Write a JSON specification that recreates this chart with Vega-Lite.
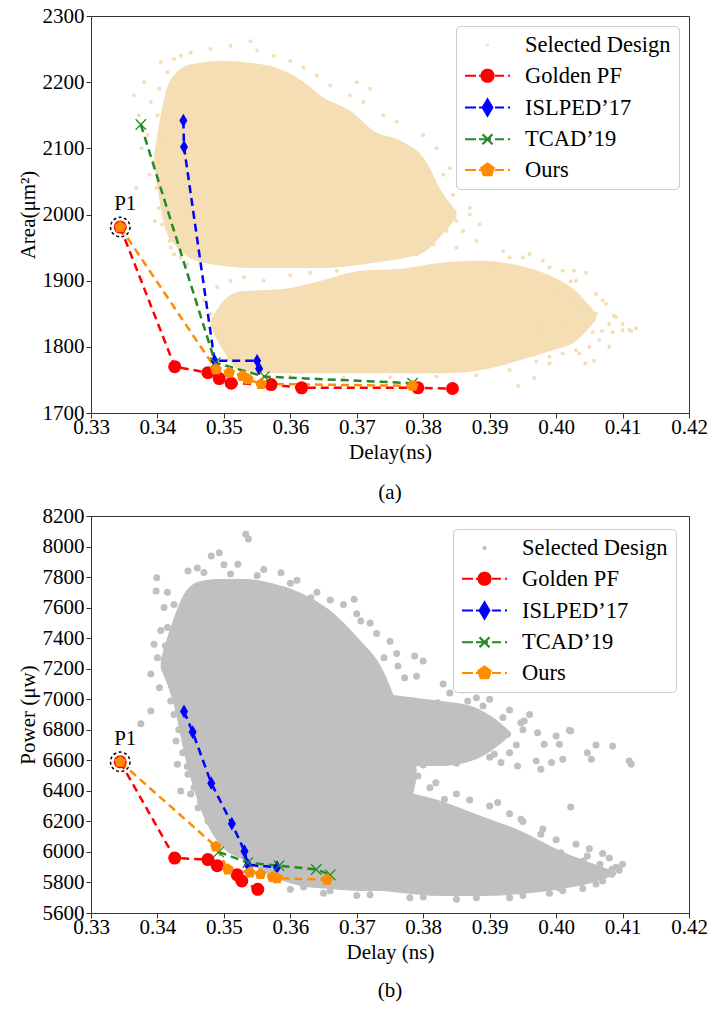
{
"$schema": "https://vega.github.io/schema/vega-lite/v6.json",
"padding": {"left": 16, "top": 4, "right": 5, "bottom": 5},
"spacing": 0,
"resolve": {"scale": {"color": "independent", "stroke": "independent", "shape": "independent"}, "legend": {"color": "independent", "stroke": "independent", "shape": "independent"}},
"config": {
  "view": {"stroke": "#333333", "strokeWidth": 1},
  "font": "Liberation Serif, Times New Roman, DejaVu Serif, serif",
  "axis": {"labelFont": "Liberation Serif, Times New Roman, DejaVu Serif, serif", "titleFont": "Liberation Serif, Times New Roman, DejaVu Serif, serif", "labelFontSize": 21, "titleFontSize": 21, "titleFontWeight": "normal", "labelColor": "#000000", "titleColor": "#000000", "tickColor": "#333333", "domainColor": "#333333", "grid": false, "tickSize": 5, "labelFlush": false, "labelOverlap": false, "titlePadding": 4},
  "axisX": {"labelPadding": -2},
  "axisY": {"labelPadding": 2, "format": "d"},
  "legend": {"orient": "top-right", "offset": 10, "padding": 7.5, "rowPadding": 7.75, "symbolSize": 400, "symbolStrokeWidth": 2.2, "symbolOpacity": 1, "labelOffset": 38.5, "labelFontSize": 22.5, "labelFont": "Liberation Serif, Times New Roman, DejaVu Serif, serif", "labelColor": "#000000", "strokeColor": "#cccccc", "fillColor": "#ffffff", "cornerRadius": 4, "symbolDash": [1, 0]},
  "title": {"font": "Liberation Serif, Times New Roman, DejaVu Serif, serif", "fontSize": 21, "fontWeight": "normal", "color": "#000000"}
},
"datasets": {
  "coreA": [
    {"b":"u","x":0.3395,"y":2075,"y2":2090},{"b":"u","x":0.3413,"y":1975,"y2":2187},{"b":"u","x":0.3428,"y":1952,"y2":2214},{"b":"u","x":0.3451,"y":1933,"y2":2227},{"b":"u","x":0.3500,"y":1922,"y2":2232},{"b":"u","x":0.3541,"y":1919,"y2":2229},{"b":"u","x":0.3581,"y":1919,"y2":2221},{"b":"u","x":0.3612,"y":1919,"y2":2206},{"b":"u","x":0.3651,"y":1919,"y2":2176},{"b":"u","x":0.3691,"y":1922,"y2":2156},{"b":"u","x":0.3726,"y":1927,"y2":2126},{"b":"u","x":0.3767,"y":1933,"y2":2111},{"b":"u","x":0.3804,"y":1945,"y2":2081},{"b":"u","x":0.3827,"y":1968,"y2":2036},{"b":"u","x":0.3850,"y":1995,"y2":2005},
    {"b":"l","x":0.3480,"y":1830,"y2":1840},{"b":"l","x":0.3499,"y":1794,"y2":1869},{"b":"l","x":0.3526,"y":1763,"y2":1884},{"b":"l","x":0.3586,"y":1760,"y2":1887},{"b":"l","x":0.3646,"y":1760,"y2":1900},{"b":"l","x":0.3706,"y":1760,"y2":1915},{"b":"l","x":0.3767,"y":1760,"y2":1918},{"b":"l","x":0.3827,"y":1760,"y2":1927},{"b":"l","x":0.3887,"y":1765,"y2":1930},{"b":"l","x":0.3947,"y":1780,"y2":1922},{"b":"l","x":0.3992,"y":1794,"y2":1907},{"b":"l","x":0.4030,"y":1809,"y2":1884},{"b":"l","x":0.4060,"y":1840,"y2":1850}
  ],
  "cloudA": [
    {"x":0.3365,"y":2180},{"x":0.3372,"y":2150},{"x":0.3380,"y":2200},{"x":0.3385,"y":2120},{"x":0.3390,"y":2170},{"x":0.3395,"y":2080},{"x":0.3398,"y":2040},{"x":0.3402,"y":2010},{"x":0.3396,"y":1990},{"x":0.3405,"y":2230},{"x":0.3410,"y":2110},{"x":0.3388,"y":2060},{"x":0.3376,"y":2100},{"x":0.3368,"y":2040},{"x":0.3418,"y":1960},{"x":0.3425,"y":1940},
    {"x":0.3450,"y":2245},{"x":0.3480,"y":2250},{"x":0.3510,"y":2255},{"x":0.3540,"y":2262},{"x":0.3550,"y":2248},{"x":0.3575,"y":2240},{"x":0.3600,"y":2232},{"x":0.3620,"y":2222},{"x":0.3640,"y":2210},{"x":0.3660,"y":2195},{"x":0.3690,"y":2180},{"x":0.3710,"y":2170},{"x":0.3740,"y":2150},{"x":0.3760,"y":2140},{"x":0.3800,"y":2120},{"x":0.3820,"y":2100},{"x":0.3840,"y":2070},{"x":0.3860,"y":2040},{"x":0.3870,"y":2010},{"x":0.3850,"y":1990},{"x":0.3880,"y":1960},{"x":0.3720,"y":2190},{"x":0.3700,"y":2200},
    {"x":0.4000,"y":1890},{"x":0.4020,"y":1870},{"x":0.4040,"y":1860},{"x":0.4060,"y":1850},{"x":0.4080,"y":1835},{"x":0.4100,"y":1825},{"x":0.4110,"y":1826},{"x":0.4050,"y":1800},{"x":0.4030,"y":1795},{"x":0.4010,"y":1790},{"x":0.3990,"y":1785},{"x":0.3970,"y":1778},{"x":0.4070,"y":1870},{"x":0.4090,"y":1845},{"x":0.4010,"y":1915},{"x":0.3980,"y":1930},{"x":0.3960,"y":1940},{"x":0.3920,"y":1945},{"x":0.4045,"y":1912},{"x":0.4055,"y":1822},{"x":0.4080,"y":1800},{"x":0.4020,"y":1830},
    {"x":0.3510,"y":1900},{"x":0.3490,"y":1890},{"x":0.3480,"y":1850},{"x":0.3490,"y":1820},{"x":0.3500,"y":1800},{"x":0.3470,"y":1870},{"x":0.3505,"y":1780},
    {"x":0.3850,"y":1950},{"x":0.3900,"y":1925},{"x":0.3930,"y":1935},{"x":0.3860,"y":1975},
    {"x":0.4027,"y":1915},{"x":0.4022,"y":1899},{"x":0.4087,"y":1847},{"x":0.4113,"y":1824},{"x":0.4069,"y":1824},{"x":0.4057,"y":1779},{"x":0.4044,"y":1775},{"x":0.3967,"y":1753},{"x":0.3943,"y":1741},{"x":0.3977,"y":1828},
    {"x":0.3400,"y":2150},{"x":0.3403,"y":2190},{"x":0.3408,"y":2060},{"x":0.3412,"y":2025},{"x":0.3407,"y":1985},{"x":0.3420,"y":1950},{"x":0.3435,"y":1935},{"x":0.3445,"y":1925},{"x":0.3415,"y":2215},{"x":0.3425,"y":2235},{"x":0.3435,"y":2240},
    {"x":0.3530,"y":1905},{"x":0.3560,"y":1900},{"x":0.3600,"y":1908},{"x":0.3630,"y":1912},{"x":0.3670,"y":1915},
    {"x":0.3830,"y":2060},{"x":0.3845,"y":2030},{"x":0.3835,"y":1975},{"x":0.3815,"y":1955},{"x":0.3790,"y":1940},{"x":0.3870,"y":2000},{"x":0.3885,"y":1985},
    {"x":0.3540,"y":1758},{"x":0.3600,"y":1755},{"x":0.3680,"y":1753},{"x":0.3750,"y":1754},{"x":0.3820,"y":1755},{"x":0.3880,"y":1757},{"x":0.3930,"y":1765},{"x":0.3990,"y":1775},{"x":0.4035,"y":1790},{"x":0.4065,"y":1810},{"x":0.4085,"y":1822},{"x":0.4100,"y":1835},{"x":0.4120,"y":1828},
    {"x":0.3950,"y":1935},{"x":0.3990,"y":1920},{"x":0.4030,"y":1900},{"x":0.4060,"y":1880},{"x":0.4075,"y":1865}
  ],
  "pfA": [
    {"s":"Golden PF","x":0.3344,"y":1981},{"s":"Golden PF","x":0.3426,"y":1770},{"s":"Golden PF","x":0.3476,"y":1761},{"s":"Golden PF","x":0.3493,"y":1752},{"s":"Golden PF","x":0.3511,"y":1745},{"s":"Golden PF","x":0.3571,"y":1743},{"s":"Golden PF","x":0.3617,"y":1738},{"s":"Golden PF","x":0.3792,"y":1738},{"s":"Golden PF","x":0.3844,"y":1737},
    {"s":"ISLPED’17","x":0.3439,"y":2142},{"s":"ISLPED’17","x":0.3440,"y":2102},{"s":"ISLPED’17","x":0.3486,"y":1779},{"s":"ISLPED’17","x":0.3550,"y":1779},{"s":"ISLPED’17","x":0.3553,"y":1767},
    {"s":"TCAD’19","x":0.3375,"y":2136},{"s":"TCAD’19","x":0.3487,"y":1776},{"s":"TCAD’19","x":0.3561,"y":1755},{"s":"TCAD’19","x":0.3784,"y":1745},
    {"s":"Ours","x":0.3344,"y":1981},{"s":"Ours","x":0.3488,"y":1766},{"s":"Ours","x":0.3508,"y":1761},{"s":"Ours","x":0.3528,"y":1756},{"s":"Ours","x":0.3536,"y":1751},{"s":"Ours","x":0.3556,"y":1744},{"s":"Ours","x":0.3784,"y":1741}
  ],
  "p1A": [{"x":0.3344,"y":1981,"label":"P1"}],
  "coreB": [
    {"b":"m","x":0.3405,"y":7200,"y2":7260},{"b":"m","x":0.3423,"y":6988,"y2":7512},{"b":"m","x":0.3443,"y":6595,"y2":7709},{"b":"m","x":0.3466,"y":6268,"y2":7774},{"b":"m","x":0.3496,"y":6039,"y2":7787},{"b":"m","x":0.3533,"y":5941,"y2":7787},{"b":"m","x":0.3571,"y":5842,"y2":7761},{"b":"m","x":0.3616,"y":5777,"y2":7696},{"b":"m","x":0.3661,"y":5757,"y2":7578},{"b":"m","x":0.3706,"y":5744,"y2":7381},{"b":"m","x":0.3736,"y":5744,"y2":7218},{"b":"m","x":0.3790,"y":6480,"y2":6560},
    {"b":"l","x":0.3700,"y":5744,"y2":6500},{"b":"l","x":0.3736,"y":5744,"y2":6432},{"b":"l","x":0.3767,"y":5731,"y2":6399},{"b":"l","x":0.3827,"y":5711,"y2":6334},{"b":"l","x":0.3887,"y":5711,"y2":6235},{"b":"l","x":0.3947,"y":5724,"y2":6137},{"b":"l","x":0.4007,"y":5757,"y2":6006},{"b":"l","x":0.4053,"y":5797,"y2":5928},{"b":"l","x":0.4090,"y":5850,"y2":5870},
    {"b":"r","x":0.3700,"y":6620,"y2":7100},{"b":"r","x":0.3721,"y":6595,"y2":7054},{"b":"r","x":0.3767,"y":6563,"y2":7021},{"b":"r","x":0.3827,"y":6563,"y2":6988},{"b":"r","x":0.3872,"y":6595,"y2":6956},{"b":"r","x":0.3902,"y":6661,"y2":6890},{"b":"r","x":0.3930,"y":6760,"y2":6790}
  ],
  "cloudB": [
    {"x":0.3399,"y":7796},{"x":0.3398,"y":7709},{"x":0.3415,"y":7469},{"x":0.3395,"y":7360},{"x":0.3400,"y":7272},{"x":0.3390,"y":7165},{"x":0.3390,"y":6923},{"x":0.3375,"y":6840},{"x":0.3403,"y":7076},{"x":0.3428,"y":6727},{"x":0.3430,"y":6574},{"x":0.3435,"y":6399},{"x":0.3450,"y":6379},{"x":0.3461,"y":6290},{"x":0.3476,"y":6203},{"x":0.3446,"y":6508},{"x":0.3420,"y":6988},
    {"x":0.3533,"y":8080},{"x":0.3537,"y":8050},{"x":0.3493,"y":7960},{"x":0.3481,"y":7938},{"x":0.3446,"y":7840},{"x":0.3586,"y":7829},{"x":0.3521,"y":7884},{"x":0.3631,"y":7665},{"x":0.3696,"y":7654},{"x":0.3706,"y":7512},{"x":0.3676,"y":7469},{"x":0.3741,"y":7272},{"x":0.3787,"y":7283},{"x":0.3762,"y":7218},{"x":0.3772,"y":7141},{"x":0.3726,"y":7229},
    {"x":0.3470,"y":7830},{"x":0.3510,"y":7820},{"x":0.3550,"y":7810},{"x":0.3600,"y":7760},{"x":0.3640,"y":7700},{"x":0.3680,"y":7620},{"x":0.3720,"y":7500},{"x":0.3750,"y":7380},{"x":0.3800,"y":7250},{"x":0.3830,"y":7100},{"x":0.3860,"y":7060},{"x":0.3900,"y":7000},{"x":0.3930,"y":6930},{"x":0.3960,"y":6900},{"x":0.4000,"y":6760},{"x":0.4060,"y":6700},
    {"x":0.4022,"y":6792},{"x":0.4047,"y":6650},{"x":0.4053,"y":6607},{"x":0.4085,"y":6694},{"x":0.4110,"y":6596},{"x":0.4113,"y":6574},{"x":0.3982,"y":6705},{"x":0.4005,"y":6705},{"x":0.4010,"y":6607},{"x":0.3993,"y":6585},{"x":0.3977,"y":6541},{"x":0.3970,"y":6596},{"x":0.3952,"y":6857},{"x":0.3972,"y":6781},{"x":0.4020,"y":6797},{"x":0.4022,"y":6294},{"x":0.3930,"y":6650},{"x":0.3942,"y":6563},{"x":0.3917,"y":6585},{"x":0.3907,"y":6639},{"x":0.3819,"y":6453},{"x":0.3792,"y":6497},{"x":0.3832,"y":6345},{"x":0.3912,"y":6323},{"x":0.3947,"y":6214},{"x":0.3977,"y":6115},{"x":0.4007,"y":5995},{"x":0.4047,"y":5973},{"x":0.3767,"y":6453},{"x":0.3762,"y":6988},{"x":0.3779,"y":6984},{"x":0.3822,"y":6977},{"x":0.3867,"y":6988},{"x":0.3890,"y":6956},{"x":0.3907,"y":6846},{"x":0.3927,"y":6770},{"x":0.3947,"y":6846},
    {"x":0.4004,"y":5766},{"x":0.4032,"y":5799},{"x":0.4053,"y":5875},{"x":0.4084,"y":5886},{"x":0.4084,"y":5853},{"x":0.4016,"y":5897},{"x":0.3961,"y":5821},{"x":0.4066,"y":5919},{"x":0.4041,"y":5941},{"x":0.4003,"y":5915},
    {"x":0.3850,"y":6380},{"x":0.3900,"y":6300},{"x":0.3950,"y":6200},{"x":0.4000,"y":6080},{"x":0.4050,"y":6020},{"x":0.4080,"y":5960},{"x":0.4090,"y":5900},{"x":0.4070,"y":5810},{"x":0.4040,"y":5760},{"x":0.3990,"y":5730},{"x":0.3930,"y":5700},{"x":0.3850,"y":5690},{"x":0.3780,"y":5700},{"x":0.3700,"y":5715},{"x":0.3650,"y":5730},{"x":0.3600,"y":5755},
    {"x":0.3410,"y":7600},{"x":0.3415,"y":7700},{"x":0.3425,"y":7620},{"x":0.3405,"y":7450},{"x":0.3412,"y":7350},{"x":0.3418,"y":7150},{"x":0.3425,"y":6900},{"x":0.3432,"y":6800},{"x":0.3438,"y":6650},{"x":0.3445,"y":6560},{"x":0.3455,"y":6420},{"x":0.3465,"y":6330},{"x":0.3480,"y":6250},{"x":0.3490,"y":6120},{"x":0.3500,"y":6060},
    {"x":0.3460,"y":7860},{"x":0.3500,"y":7880},{"x":0.3560,"y":7850},{"x":0.3610,"y":7780},{"x":0.3660,"y":7650},{"x":0.3700,"y":7560},{"x":0.3730,"y":7430},{"x":0.3760,"y":7300},{"x":0.3790,"y":7150},{"x":0.3840,"y":7040},{"x":0.3880,"y":7010},{"x":0.3920,"y":6880},{"x":0.3950,"y":6800},{"x":0.3940,"y":6700},{"x":0.3900,"y":6620},{"x":0.3850,"y":6580},{"x":0.3800,"y":6570},{"x":0.3780,"y":6470},{"x":0.3810,"y":6420},{"x":0.3870,"y":6340},{"x":0.3930,"y":6250},{"x":0.3980,"y":6150},{"x":0.4030,"y":6050},{"x":0.4070,"y":5990},{"x":0.4100,"y":5920},{"x":0.4095,"y":5880},{"x":0.4060,"y":5790},{"x":0.4010,"y":5745},{"x":0.3950,"y":5715},{"x":0.3880,"y":5700},{"x":0.3800,"y":5705},{"x":0.3720,"y":5720},{"x":0.3660,"y":5745},{"x":0.3620,"y":5770}
  ],
  "pfB": [
    {"s":"Golden PF","x":0.3344,"y":6590},{"s":"Golden PF","x":0.3426,"y":5960},{"s":"Golden PF","x":0.3476,"y":5950},{"s":"Golden PF","x":0.3490,"y":5910},{"s":"Golden PF","x":0.3520,"y":5850},{"s":"Golden PF","x":0.3527,"y":5810},{"s":"Golden PF","x":0.3551,"y":5755},
    {"s":"ISLPED’17","x":0.3440,"y":6920},{"s":"ISLPED’17","x":0.3453,"y":6785},{"s":"ISLPED’17","x":0.3481,"y":6450},{"s":"ISLPED’17","x":0.3512,"y":6185},{"s":"ISLPED’17","x":0.3531,"y":6005},{"s":"ISLPED’17","x":0.3536,"y":5915},{"s":"ISLPED’17","x":0.3580,"y":5900},
    {"s":"TCAD’19","x":0.3492,"y":6000},{"s":"TCAD’19","x":0.3536,"y":5930},{"s":"TCAD’19","x":0.3583,"y":5910},{"s":"TCAD’19","x":0.3639,"y":5885},{"s":"TCAD’19","x":0.3660,"y":5850},
    {"s":"Ours","x":0.3344,"y":6590},{"s":"Ours","x":0.3488,"y":6035},{"s":"Ours","x":0.3506,"y":5885},{"s":"Ours","x":0.3539,"y":5865},{"s":"Ours","x":0.3555,"y":5855},{"s":"Ours","x":0.3573,"y":5835},{"s":"Ours","x":0.3580,"y":5828},{"s":"Ours","x":0.3655,"y":5818}
  ],
  "p1B": [{"x":0.3344,"y":6590,"label":"P1"}]
},
"vconcat": [
{
  "width": 598, "height": 397,
  "title": {"text": "(a)", "orient": "bottom", "anchor": "middle", "offset": 20},
  "encoding": {
    "x": {"field": "x", "type": "quantitative", "scale": {"domain": [0.33, 0.42], "nice": false, "zero": false}, "axis": {"title": "Delay(ns)", "values": [0.33,0.34,0.35,0.36,0.37,0.38,0.39,0.40,0.41,0.42], "format": ".2f"}},
    "y": {"field": "y", "type": "quantitative", "scale": {"domain": [1700, 2300], "nice": false, "zero": false}, "axis": {"title": "Area(μm²)", "values": [1700,1800,1900,2000,2100,2200,2300]}}
  },
  "layer": [
    {"data": {"name": "coreA"}, "mark": {"type": "area", "color": "#F5DEB3", "interpolate": "monotone", "opacity": 1}, "encoding": {"y2": {"field": "y2"}, "detail": {"field": "b"}}},
    {"data": {"name": "cloudA"}, "mark": {"type": "circle", "color": "#F5DEB3", "size": 16, "opacity": 1}},
    {"data": {"name": "pfA"}, "transform": [{"filter": {"field": "s", "equal": "Golden PF"}}], "mark": {"type": "line", "strokeDash": [8, 5], "strokeWidth": 2.5, "color": "#FF0000"}},
    {"data": {"name": "pfA"}, "transform": [{"filter": {"field": "s", "equal": "ISLPED’17"}}], "mark": {"type": "line", "strokeDash": [8, 5], "strokeWidth": 2.5, "color": "#0000FF"}},
    {"data": {"name": "pfA"}, "transform": [{"filter": {"field": "s", "equal": "TCAD’19"}}], "mark": {"type": "line", "strokeDash": [8, 5], "strokeWidth": 2.5, "color": "#228B22"}},
    {"data": {"name": "pfA"}, "transform": [{"filter": {"field": "s", "equal": "Ours"}}], "mark": {"type": "line", "strokeDash": [8, 5], "strokeWidth": 2.5, "color": "#FF8C00"}},
    {"data": {"name": "pfA"}, "transform": [{"filter": {"field": "s", "equal": "Golden PF"}}], "mark": {"type": "point", "shape": "circle", "filled": true, "size": 169, "color": "#FF0000", "opacity": 1}},
    {"data": {"name": "pfA"}, "transform": [{"filter": {"field": "s", "equal": "ISLPED’17"}}], "mark": {"type": "point", "shape": "M0,-1.05L0.62,0L0,1.05L-0.62,0Z", "filled": true, "size": 169, "color": "#0000FF", "opacity": 1}},
    {"data": {"name": "pfA"}, "transform": [{"filter": {"field": "s", "equal": "TCAD’19"}}], "mark": {"type": "point", "shape": "M-0.8,-0.8L0.8,0.8M-0.8,0.8L0.8,-0.8", "filled": false, "size": 169, "color": "#228B22", "strokeWidth": 1.3, "opacity": 1}},
    {"data": {"name": "pfA"}, "transform": [{"filter": {"field": "s", "equal": "Ours"}}], "mark": {"type": "point", "shape": "M0,-0.95L0.904,-0.294L0.558,0.769L-0.558,0.769L-0.904,-0.294Z", "filled": true, "size": 169, "color": "#FF8C00", "opacity": 1}},
    {"data": {"name": "pfA"}, "mark": {"type": "point", "filled": true, "opacity": 0, "size": 400},
     "encoding": {
       "color": {"field": "s", "type": "nominal", "scale": {"domain": ["Selected Design","Golden PF","ISLPED’17","TCAD’19","Ours"], "range": ["#F5DEB3","#FF0000","#0000FF","#228B22","#FF8C00"]}, "legend": {"title": null}},
       "stroke": {"field": "s", "type": "nominal", "scale": {"domain": ["Selected Design","Golden PF","ISLPED’17","TCAD’19","Ours"], "range": ["#F5DEB3","#FF0000","#0000FF","#228B22","#FF8C00"]}, "legend": {"title": null}},
       "shape": {"field": "s", "type": "nominal", "scale": {"domain": ["Selected Design","Golden PF","ISLPED’17","TCAD’19","Ours"], "range": ["M1.2,0A0.05,0.05 0 1,0 1.3,0A0.05,0.05 0 1,0 1.2,0Z", "M-1,0H0.1M0.4,0H1.6M2,0H2.9M3.3,0H3.5M0.65,0A0.6,0.6 0 1,0 1.85,0A0.6,0.6 0 1,0 0.65,0Z", "M-1,0H0.1M0.4,0H1.6M2,0H2.9M3.3,0H3.5M1.25,-0.8L1.73,0L1.25,0.8L0.77,0Z", "M-1,0H0.1M0.4,0H1.6M2,0H2.9M3.3,0H3.5M0.75,-0.5L1.75,0.5M0.75,0.5L1.75,-0.5", "M-1,0H0.1M0.4,0H1.6M2,0H2.9M3.3,0H3.5M1.25,-0.65L1.868,-0.201L1.632,0.526L0.868,0.526L0.632,-0.201Z"]}, "legend": {"title": null}}
     }},
    {"data": {"name": "p1A"}, "mark": {"type": "point", "shape": "circle", "size": 380, "stroke": "#000000", "strokeWidth": 1.5, "strokeDash": [3, 2.5], "filled": false, "opacity": 1}},
    {"data": {"name": "p1A"}, "mark": {"type": "text", "font": "Liberation Serif, Times New Roman, DejaVu Serif, serif", "fontSize": 21, "dx": 5, "dy": -23, "color": "#000000"}, "encoding": {"text": {"field": "label"}}}
  ]
},
{
  "width": 598, "height": 397,
  "title": {"text": "(b)", "orient": "bottom", "anchor": "middle", "offset": 18},
  "encoding": {
    "x": {"field": "x", "type": "quantitative", "scale": {"domain": [0.33, 0.42], "nice": false, "zero": false}, "axis": {"title": "Delay (ns)", "values": [0.33,0.34,0.35,0.36,0.37,0.38,0.39,0.40,0.41,0.42], "format": ".2f"}},
    "y": {"field": "y", "type": "quantitative", "scale": {"domain": [5600, 8200], "nice": false, "zero": false}, "axis": {"title": "Power (μw)", "values": [5600,5800,6000,6200,6400,6600,6800,7000,7200,7400,7600,7800,8000,8200]}}
  },
  "layer": [
    {"data": {"name": "coreB"}, "mark": {"type": "area", "color": "#C0C0C0", "interpolate": "monotone", "opacity": 1}, "encoding": {"y2": {"field": "y2"}, "detail": {"field": "b"}}},
    {"data": {"name": "cloudB"}, "mark": {"type": "circle", "color": "#C0C0C0", "size": 49, "opacity": 1}},
    {"data": {"name": "pfB"}, "transform": [{"filter": {"field": "s", "equal": "Golden PF"}}], "mark": {"type": "line", "strokeDash": [8, 5], "strokeWidth": 2.5, "color": "#FF0000"}},
    {"data": {"name": "pfB"}, "transform": [{"filter": {"field": "s", "equal": "ISLPED’17"}}], "mark": {"type": "line", "strokeDash": [8, 5], "strokeWidth": 2.5, "color": "#0000FF"}},
    {"data": {"name": "pfB"}, "transform": [{"filter": {"field": "s", "equal": "TCAD’19"}}], "mark": {"type": "line", "strokeDash": [8, 5], "strokeWidth": 2.5, "color": "#228B22"}},
    {"data": {"name": "pfB"}, "transform": [{"filter": {"field": "s", "equal": "Ours"}}], "mark": {"type": "line", "strokeDash": [8, 5], "strokeWidth": 2.5, "color": "#FF8C00"}},
    {"data": {"name": "pfB"}, "transform": [{"filter": {"field": "s", "equal": "Golden PF"}}], "mark": {"type": "point", "shape": "circle", "filled": true, "size": 169, "color": "#FF0000", "opacity": 1}},
    {"data": {"name": "pfB"}, "transform": [{"filter": {"field": "s", "equal": "ISLPED’17"}}], "mark": {"type": "point", "shape": "M0,-1.05L0.62,0L0,1.05L-0.62,0Z", "filled": true, "size": 169, "color": "#0000FF", "opacity": 1}},
    {"data": {"name": "pfB"}, "transform": [{"filter": {"field": "s", "equal": "TCAD’19"}}], "mark": {"type": "point", "shape": "M-0.8,-0.8L0.8,0.8M-0.8,0.8L0.8,-0.8", "filled": false, "size": 169, "color": "#228B22", "strokeWidth": 1.3, "opacity": 1}},
    {"data": {"name": "pfB"}, "transform": [{"filter": {"field": "s", "equal": "Ours"}}], "mark": {"type": "point", "shape": "M0,-0.95L0.904,-0.294L0.558,0.769L-0.558,0.769L-0.904,-0.294Z", "filled": true, "size": 169, "color": "#FF8C00", "opacity": 1}},
    {"data": {"name": "pfB"}, "mark": {"type": "point", "filled": true, "opacity": 0, "size": 400},
     "encoding": {
       "color": {"field": "s", "type": "nominal", "scale": {"domain": ["Selected Design","Golden PF","ISLPED’17","TCAD’19","Ours"], "range": ["#C0C0C0","#FF0000","#0000FF","#228B22","#FF8C00"]}, "legend": {"title": null, "offset": 13}},
       "stroke": {"field": "s", "type": "nominal", "scale": {"domain": ["Selected Design","Golden PF","ISLPED’17","TCAD’19","Ours"], "range": ["#C0C0C0","#FF0000","#0000FF","#228B22","#FF8C00"]}, "legend": {"title": null, "offset": 13}},
       "shape": {"field": "s", "type": "nominal", "scale": {"domain": ["Selected Design","Golden PF","ISLPED’17","TCAD’19","Ours"], "range": ["M1.15,0A0.1,0.1 0 1,0 1.35,0A0.1,0.1 0 1,0 1.15,0Z", "M-1,0H0.1M0.4,0H1.6M2,0H2.9M3.3,0H3.5M0.65,0A0.6,0.6 0 1,0 1.85,0A0.6,0.6 0 1,0 0.65,0Z", "M-1,0H0.1M0.4,0H1.6M2,0H2.9M3.3,0H3.5M1.25,-0.8L1.73,0L1.25,0.8L0.77,0Z", "M-1,0H0.1M0.4,0H1.6M2,0H2.9M3.3,0H3.5M0.75,-0.5L1.75,0.5M0.75,0.5L1.75,-0.5", "M-1,0H0.1M0.4,0H1.6M2,0H2.9M3.3,0H3.5M1.25,-0.65L1.868,-0.201L1.632,0.526L0.868,0.526L0.632,-0.201Z"]}, "legend": {"title": null, "offset": 13}}
     }},
    {"data": {"name": "p1B"}, "mark": {"type": "point", "shape": "circle", "size": 380, "stroke": "#000000", "strokeWidth": 1.5, "strokeDash": [3, 2.5], "filled": false, "opacity": 1}},
    {"data": {"name": "p1B"}, "mark": {"type": "text", "font": "Liberation Serif, Times New Roman, DejaVu Serif, serif", "fontSize": 21, "dx": 5, "dy": -23, "color": "#000000"}, "encoding": {"text": {"field": "label"}}}
  ]
}
]
}
